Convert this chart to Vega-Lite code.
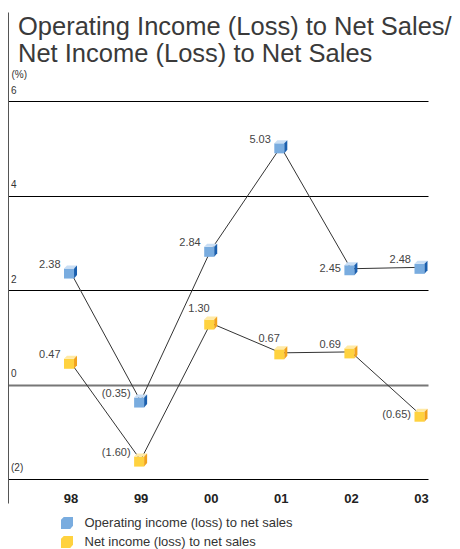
{
  "$schema": "https://vega.github.io/schema/vega-lite/v6.json",
  "width": 420,
  "height": 491,
  "autosize": {"type": "none"},
  "padding": {"left": 8, "top": 12, "right": 32, "bottom": 46},
  "background": "#ffffff",
  "config": {
    "view": {"stroke": null},
    "font": "Liberation Sans",
    "title": {"font": "Liberation Sans"}
  },
  "title": {
    "text": ["Operating Income (Loss) to Net Sales/", "Net Income (Loss) to Net Sales"],
    "anchor": "start",
    "frame": "group",
    "orient": "top",
    "baseline": "top",
    "offset": 0,
    "dx": 10,
    "dy": 55,
    "fontSize": 25.5,
    "fontWeight": "normal",
    "color": "#3a3a3a",
    "lineHeight": 27
  },
  "data": {
    "values": [
      {"year": 1998, "series": "Operating income (loss) to net sales", "value": 2.38},
      {"year": 1999, "series": "Operating income (loss) to net sales", "value": -0.35},
      {"year": 2000, "series": "Operating income (loss) to net sales", "value": 2.84},
      {"year": 2001, "series": "Operating income (loss) to net sales", "value": 5.03},
      {"year": 2002, "series": "Operating income (loss) to net sales", "value": 2.45},
      {"year": 2003, "series": "Operating income (loss) to net sales", "value": 2.48},
      {"year": 1998, "series": "Net income (loss) to net sales", "value": 0.47},
      {"year": 1999, "series": "Net income (loss) to net sales", "value": -1.60},
      {"year": 2000, "series": "Net income (loss) to net sales", "value": 1.30},
      {"year": 2001, "series": "Net income (loss) to net sales", "value": 0.67},
      {"year": 2002, "series": "Net income (loss) to net sales", "value": 0.69},
      {"year": 2003, "series": "Net income (loss) to net sales", "value": -0.65}
    ]
  },
  "transform": [
    {"calculate": "datum.value < 0 ? '(' + format(-datum.value, '.2f') + ')' : format(datum.value, '.2f')", "as": "label"}
  ],
  "encoding": {
    "x": {
      "field": "year",
      "type": "quantitative",
      "scale": {"domain": [1997.108, 2003.1], "nice": false, "zero": false},
      "axis": {
        "title": null,
        "values": [1998, 1999, 2000, 2001, 2002, 2003],
        "labelExpr": "substring(toString(datum.value), 2)",
        "domain": false,
        "ticks": false,
        "grid": false,
        "labelPadding": -4.5,
        "labelBaseline": "middle",
        "labelFontSize": 13,
        "labelFontWeight": "bold",
        "labelColor": "#222222",
        "labelFlush": false,
        "labelOverlap": false
      }
    },
    "y": {
      "field": "value",
      "type": "quantitative",
      "scale": {"domain": [-2.508, 7.884], "nice": false, "zero": false},
      "axis": {
        "title": "(%)",
        "titleAngle": 0,
        "titleX": 3,
        "titleY": 65,
        "titleAlign": "left",
        "titleBaseline": "alphabetic",
        "titleFontSize": 10,
        "titleFontWeight": "normal",
        "titleColor": "#333333",
        "values": [-2, 0, 2, 4, 6],
        "labelExpr": "datum.value < 0 ? '(' + abs(datum.value) + ')' : datum.value",
        "domain": true,
        "domainColor": "#555555",
        "domainWidth": 1,
        "ticks": false,
        "grid": true,
        "gridColor": {"condition": {"test": "datum.value === 0", "value": "#777777"}, "value": "#000000"},
        "gridWidth": {"condition": {"test": "datum.value === 0", "value": 2}, "value": 1},
        "gridOpacity": 1,
        "labelAlign": "left",
        "labelBaseline": "alphabetic",
        "labelPadding": -2.5,
        "labelOffset": -8,
        "labelFontSize": 10,
        "labelColor": "#333333"
      }
    }
  },
  "layer": [
    {
      "mark": {"type": "line", "color": "#333333", "strokeWidth": 1},
      "encoding": {"detail": {"field": "series"}}
    },
    {
      "mark": {"type": "point", "filled": true, "opacity": 1, "strokeWidth": 0, "size": 169,
               "shape": "M-1,-0.54L0.54,-0.54L0.54,1L-1,1Z"},
      "encoding": {
        "color": {
          "field": "series",
          "type": "nominal",
          "sort": ["Operating income (loss) to net sales", "Net income (loss) to net sales"],
          "scale": {"domain": ["Operating income (loss) to net sales", "Net income (loss) to net sales"], "range": ["#79acdf", "#ffd23f"]},
          "legend": {
            "title": null,
            "orient": "none",
            "legendX": 52.5,
            "legendY": 504.5,
            "direction": "vertical",
            "symbolType": "M-1,-0.54L-0.54,-1L1,-1L1,0.46L0.54,1L-1,1Z",
            "symbolSize": 144,
            "symbolStrokeWidth": 0,
            "symbolOpacity": 1,
            "labelFontSize": 13,
            "labelLimit": 400,
            "labelColor": "#333333",
            "labelOffset": 11,
            "rowPadding": 5,
            "padding": 0
          }
        }
      }
    },
    {
      "mark": {"type": "point", "filled": true, "opacity": 1, "strokeWidth": 0, "size": 169,
               "shape": "M-1,-0.54L-0.54,-1L1,-1L0.54,-0.54Z"},
      "encoding": {
        "color": {
          "field": "series",
          "type": "nominal",
          "scale": {"domain": ["Operating income (loss) to net sales", "Net income (loss) to net sales"], "range": ["#c9def4", "#ffeaa6"]},
          "legend": null
        }
      }
    },
    {
      "mark": {"type": "point", "filled": true, "opacity": 1, "strokeWidth": 0, "size": 169,
               "shape": "M0.54,-0.54L1,-1L1,0.46L0.54,1Z"},
      "encoding": {
        "color": {
          "field": "series",
          "type": "nominal",
          "scale": {"domain": ["Operating income (loss) to net sales", "Net income (loss) to net sales"], "range": ["#1a5fae", "#f2a21c"]},
          "legend": null
        }
      }
    },
    {
      "transform": [{"filter": "!((datum.year === 2000 || datum.year === 2001) && datum.series === 'Net income (loss) to net sales') && !(datum.year === 2002 && datum.series === 'Operating income (loss) to net sales') && !(datum.year === 2003 && datum.series === 'Net income (loss) to net sales')"}],
      "mark": {"type": "text", "align": "right", "baseline": "alphabetic", "dx": -10, "dy": -4, "fontSize": 11, "color": "#444444"},
      "encoding": {"text": {"field": "label"}}
    },
    {
      "transform": [{"filter": "(datum.year === 2000 || datum.year === 2001) && datum.series === 'Net income (loss) to net sales'"}],
      "mark": {"type": "text", "align": "right", "baseline": "alphabetic", "dx": -1, "dy": -11, "fontSize": 11, "color": "#444444"},
      "encoding": {"text": {"field": "label"}}
    },
    {
      "transform": [{"filter": "(datum.year === 2002 && datum.series === 'Operating income (loss) to net sales') || (datum.year === 2003 && datum.series === 'Net income (loss) to net sales')"}],
      "mark": {"type": "text", "align": "right", "baseline": "alphabetic", "dx": -10, "dy": 3, "fontSize": 11, "color": "#444444"},
      "encoding": {"text": {"field": "label"}}
    }
  ],
  "resolve": {"scale": {"color": "independent"}}
}
